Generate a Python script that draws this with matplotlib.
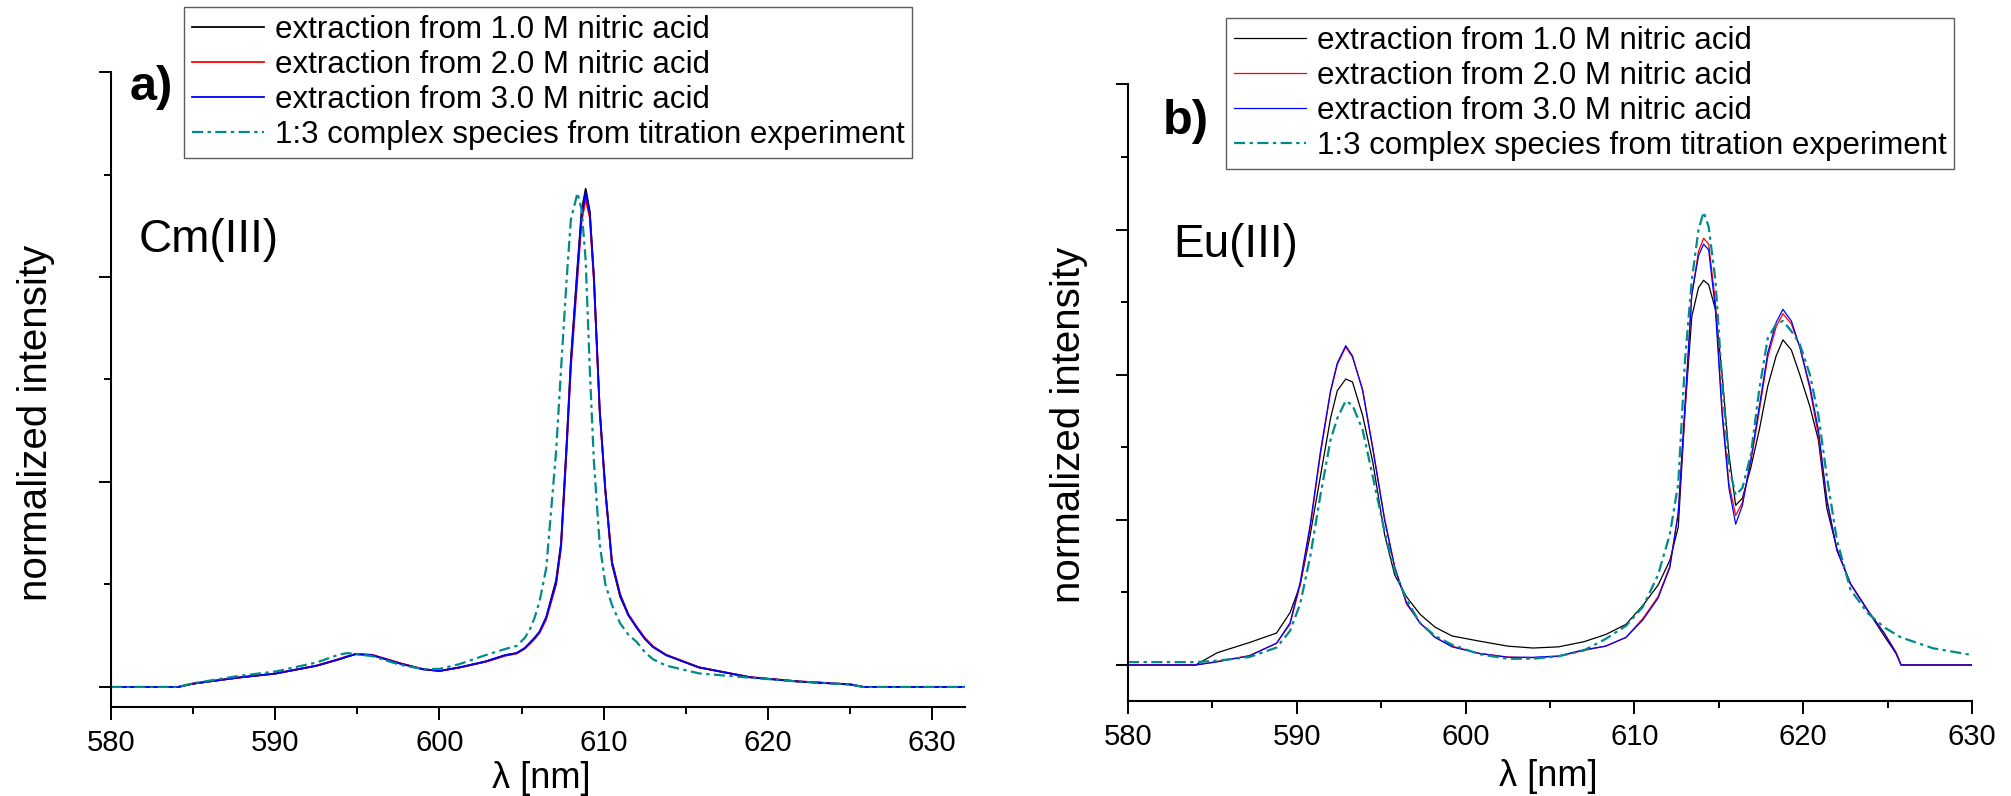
import numpy as np
import matplotlib
matplotlib.use("Agg")
from matplotlib import pyplot as plt
from matplotlib.ticker import MultipleLocator, NullFormatter

plt.rcParams["font.family"] = ["Liberation Sans", "DejaVu Sans"]

# **labels**
labels = [
    "extraction from 1.0 M nitric acid",
    "extraction from 2.0 M nitric acid",
    "extraction from 3.0 M nitric acid",
    "1:3 complex species from titration experiment",
]

# **Cm(III) spectra (a)**
cm_nm = [580, 584.1, 585, 587.8, 590, 592.5, 593.9, 594.4, 594.9, 595.9,
         597.6, 599.0, 600.0, 601.2, 602.8, 604.0, 604.7, 605.2, 605.5, 605.8,
         606.1, 606.5, 607.1, 607.4, 607.75, 608.0, 608.4, 608.65, 608.9, 609.15,
         609.4, 609.75, 610.1, 610.5, 611.0, 611.5, 612.0, 612.5, 613.0, 613.8,
         615.8, 618.9, 621.9, 625.0, 625.8, 632]
cm_1M = [0, 0, 0.016, 0.046, 0.065, 0.103, 0.135, 0.148, 0.160, 0.155,
         0.114, 0.086, 0.078, 0.095, 0.124, 0.155, 0.165, 0.19, 0.215, 0.24,
         0.27, 0.34, 0.52, 0.70, 1.20, 1.60, 2.05, 2.32, 2.43, 2.32,
         2.00, 1.35, 0.95, 0.60, 0.44, 0.35, 0.29, 0.235, 0.195, 0.155,
         0.095, 0.047, 0.026, 0.012, 0, 0]
cm_2M = [0, 0, 0.016, 0.046, 0.065, 0.104, 0.137, 0.150, 0.161, 0.157,
         0.116, 0.087, 0.078, 0.094, 0.122, 0.152, 0.163, 0.187, 0.21, 0.235,
         0.265, 0.33, 0.50, 0.68, 1.17, 1.56, 2.00, 2.27, 2.38, 2.29,
         1.98, 1.36, 0.96, 0.61, 0.45, 0.355, 0.295, 0.24, 0.198, 0.157,
         0.096, 0.048, 0.027, 0.013, 0, 0]
cm_3M = [0, 0, 0.016, 0.046, 0.065, 0.103, 0.135, 0.148, 0.160, 0.155,
         0.114, 0.086, 0.078, 0.095, 0.124, 0.155, 0.165, 0.19, 0.215, 0.24,
         0.27, 0.34, 0.51, 0.69, 1.19, 1.58, 2.03, 2.30, 2.41, 2.31,
         2.00, 1.36, 0.96, 0.61, 0.45, 0.35, 0.29, 0.235, 0.195, 0.155,
         0.095, 0.047, 0.026, 0.012, 0, 0]
cm_tit = [0, 0, 0.018, 0.054, 0.075, 0.119, 0.158, 0.165, 0.160, 0.150,
          0.108, 0.087, 0.088, 0.111, 0.155, 0.185, 0.20, 0.24, 0.28, 0.34,
          0.42, 0.58, 1.15, 1.55, 2.00, 2.28, 2.41, 2.33, 2.08, 1.55,
          1.10, 0.70, 0.50, 0.40, 0.31, 0.255, 0.22, 0.17, 0.135, 0.104,
          0.066, 0.045, 0.026, 0.012, 0, 0]

# **Eu(III) spectra (b)**
eu_nm = [580, 584, 585.3, 587.2, 588.8, 589.6, 590.2, 590.8, 591.4, 592.0,
         592.4, 592.9, 593.3, 593.9, 594.5, 595.2, 595.8, 596.5, 597.3, 598.2,
         599.2, 600.8, 602.5, 604.0, 605.5, 607.0, 608.3, 609.5, 610.5, 611.4,
         612.1, 612.6, 613.0, 613.4, 613.8, 614.1, 614.4, 614.8, 615.2, 615.6,
         616.0, 616.4, 616.9, 617.4, 617.9, 618.4, 618.8, 619.3, 619.8, 620.4,
         620.9, 621.4, 622.0, 622.8, 623.8, 624.8, 625.5, 625.8, 627.7, 630]
eu_1M = [0, 0, 0.085, 0.155, 0.22, 0.36, 0.55, 0.90, 1.30, 1.70,
         1.89, 1.97, 1.95, 1.72, 1.40, 0.90, 0.62, 0.47, 0.35, 0.26,
         0.20, 0.165, 0.13, 0.117, 0.125, 0.16, 0.21, 0.28, 0.41, 0.55,
         0.72, 0.95, 1.75, 2.40, 2.60, 2.65, 2.62, 2.45, 2.00, 1.45,
         1.10, 1.15, 1.36, 1.62, 1.92, 2.13, 2.24, 2.17, 2.00, 1.78,
         1.55, 1.08, 0.80, 0.56, 0.38, 0.20, 0.08, 0, 0, 0]
eu_2M = [0, 0, 0.025, 0.065, 0.15, 0.28, 0.55, 0.95, 1.45, 1.88,
         2.07, 2.19, 2.12, 1.90, 1.50, 1.01, 0.68, 0.42, 0.29, 0.19,
         0.13, 0.08, 0.055, 0.05, 0.06, 0.10, 0.13, 0.19, 0.32, 0.47,
         0.68, 1.05, 1.75, 2.55, 2.85, 2.94, 2.90, 2.50, 1.75, 1.25,
         1.03, 1.12, 1.40, 1.75, 2.12, 2.33, 2.42, 2.35, 2.19, 1.90,
         1.58, 1.14, 0.79, 0.56, 0.38, 0.22, 0.09, 0, 0, 0]
eu_3M = [0, 0, 0.022, 0.063, 0.15, 0.29, 0.57, 0.97, 1.47, 1.89,
         2.08, 2.20, 2.13, 1.89, 1.49, 1.00, 0.67, 0.43, 0.29, 0.19,
         0.125, 0.08, 0.053, 0.053, 0.062, 0.105, 0.13, 0.19, 0.31, 0.46,
         0.67, 1.05, 1.80, 2.55, 2.82, 2.90, 2.86, 2.45, 1.72, 1.22,
         0.97, 1.10, 1.42, 1.78, 2.15, 2.36, 2.45, 2.37, 2.19, 1.92,
         1.62, 1.14, 0.79, 0.56, 0.38, 0.22, 0.08, 0, 0, 0]
eu_tit = [0.02, 0.02, 0.03, 0.055, 0.12, 0.235, 0.42, 0.75, 1.17, 1.55,
          1.70, 1.82, 1.79, 1.62, 1.30, 0.92, 0.65, 0.45, 0.29, 0.20,
          0.14, 0.075, 0.043, 0.043, 0.06, 0.10, 0.18, 0.27, 0.40, 0.62,
          0.90, 1.25, 2.10, 2.65, 3.00, 3.12, 3.02, 2.65, 1.95, 1.37,
          1.17, 1.22, 1.45, 1.90, 2.25, 2.35, 2.37, 2.30, 2.21, 2.00,
          1.72, 1.30, 0.86, 0.52, 0.36, 0.26, 0.21, 0.19, 0.115, 0.069]

teal = "#008b8b"
dashdot = (0, (5, 2, 1.5, 2))

f = plt.figure(figsize=(20.11, 7.96), dpi=100)
ax1 = f.add_axes([0.0552, 0.1118, 0.4247, 0.7977])
ax2 = f.add_axes([0.5609, 0.1197, 0.4197, 0.7743])

ax1.plot(cm_nm, cm_1M, color="k", lw=1.3, label=labels[0])
ax1.plot(cm_nm, cm_2M, color="#ff0000", lw=1.3, label=labels[1])
ax1.plot(cm_nm, cm_3M, color="#0000ff", lw=1.3, label=labels[2])
ax1.plot(cm_nm, cm_tit, color=teal, lw=1.6, ls=dashdot, label=labels[3])

ax2.plot(eu_nm, eu_1M, color="k", lw=0.9, label=labels[0])
ax2.plot(eu_nm, eu_2M, color="#ff0000", lw=0.9, label=labels[1])
ax2.plot(eu_nm, eu_3M, color="#0000ff", lw=0.9, label=labels[2])
ax2.plot(eu_nm, eu_tit, color=teal, lw=1.6, ls=dashdot, label=labels[3])

for ax, xmax, ymin, ymax in [(ax1, 632, -0.098, 3.0), (ax2, 630, -0.246, 4.0)]:
    ax.set_xlim(580, xmax)
    ax.set_ylim(ymin, ymax)
    for s in ["top", "right"]:
        ax.spines[s].set_visible(False)
    for s in ["left", "bottom"]:
        ax.spines[s].set_linewidth(1.5)
    ax.xaxis.set_major_locator(MultipleLocator(10))
    ax.xaxis.set_minor_locator(MultipleLocator(5))
    ax.yaxis.set_major_locator(MultipleLocator(1))
    ax.yaxis.set_minor_locator(MultipleLocator(0.5))
    ax.yaxis.set_major_formatter(NullFormatter())
    ax.tick_params(which="major", direction="out", length=9, width=1.4, labelsize=21, pad=7)
    ax.tick_params(which="minor", direction="out", length=5, width=1.4)
    ax.set_xlabel("λ [nm]", fontsize=26)
    ax.set_ylabel("normalized intensity", fontsize=29)

# label positions in figure coords
ax1.xaxis.set_label_coords(0.269, 1 - 778 / 796, transform=f.transFigure)
ax2.xaxis.set_label_coords(0.770, 1 - 777 / 796, transform=f.transFigure)
ax1.yaxis.set_label_coords(0.0180, 1 - 423 / 796, transform=f.transFigure)
ax2.yaxis.set_label_coords(0.5316, 1 - 425 / 796, transform=f.transFigure)
for ax in (ax1, ax2):
    ax.xaxis.label.set_verticalalignment("center")
    ax.yaxis.label.set_verticalalignment("center")

f.text(0.0751, 1 - 87 / 796, "a)", fontsize=35, fontweight="bold", ha="center", va="center")
f.text(0.5898, 1 - 122 / 796, "b)", fontsize=35, fontweight="bold", ha="center", va="center")
f.text(0.0691, 1 - 240 / 796, "Cm(III)", fontsize=33, ha="left", va="center")
f.text(0.5833, 1 - 245 / 796, "Eu(III)", fontsize=33, ha="left", va="center")

for ax, x0, y0 in [(ax1, 184 / 2011, 1 - 7 / 796), (ax2, 1226 / 2011, 1 - 18 / 796)]:
    leg = ax.legend(loc="upper left", bbox_to_anchor=(x0, y0), bbox_transform=f.transFigure,
                    fontsize=22.5, frameon=True, fancybox=False, borderaxespad=0,
                    handlelength=2.3, handletextpad=0.35, labelspacing=0.16,
                    borderpad=0.25)
    leg.get_frame().set_edgecolor("#333333")
    leg.get_frame().set_linewidth(1.0)

plt.savefig("out.png", dpi=100)
